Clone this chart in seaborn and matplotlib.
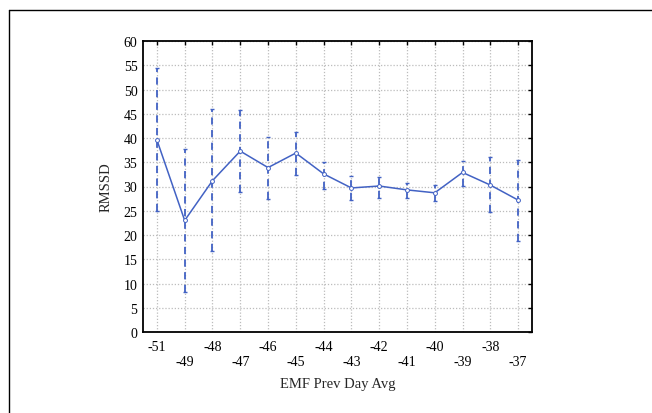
import matplotlib
matplotlib.use("Agg")
import matplotlib.pyplot as plt
import seaborn as sns
import numpy as np
import pandas as pd
from matplotlib.lines import Line2D

categories = ["-51", "-49", "-48", "-47", "-46", "-45", "-44", "-43", "-42", "-41", "-40", "-39", "-38", "-37"]
means = [39.6, 23.0, 31.2, 37.3, 33.9, 36.9, 32.6, 29.7, 30.1, 29.3, 28.7, 32.9, 30.3, 27.2]
upper = [54.5, 37.8, 46.0, 45.8, 40.3, 41.3, 35.1, 32.2, 31.9, 30.7, 30.3, 35.3, 36.0, 35.5]
lower = [25.0, 8.3, 16.7, 28.8, 27.4, 32.4, 29.5, 27.2, 27.7, 27.6, 27.0, 30.1, 24.7, 18.7]
y_ticks = list(range(0, 61, 5))

sns.set_style("white")
plt.rcParams['font.family'] = ['Liberation Serif', 'DejaVu Serif']

color = "#4262c4"
fig = plt.figure(figsize=(6.52, 4.14), dpi=100)
ax = fig.add_axes([143/652, 81/414, 389/652, 291/414])

pos = np.arange(len(categories))
df = pd.DataFrame({"pos": pos, "mean": means})

m = np.array(means)
yerr = np.vstack([m - np.array(lower), np.array(upper) - m])
eb = ax.errorbar(pos, m, yerr=yerr, fmt="none", ecolor=color, elinewidth=1.3,
                 capsize=1.5, capthick=1.0, zorder=3)
eb[2][0].set_linestyle((0, (4, 3)))

sns.lineplot(data=df, x="pos", y="mean", ax=ax, color=color, linewidth=1.1,
             marker="o", markersize=2.8, markerfacecolor="white",
             markeredgecolor=color, markeredgewidth=0.7, zorder=4)

ax.set_xlim(-0.5, len(categories) - 0.5)
ax.set_ylim(0, 60)
ax.set_yticks(y_ticks)
ax.set_yticklabels([str(v) for v in y_ticks])
ax.set_xticks(pos)
ax.set_xticklabels([c if i % 2 == 0 else "\n" + c for i, c in enumerate(categories)])
ax.tick_params(axis="both", direction="in", length=3, width=1, labelsize=10,
               top=True, right=True, colors="black")
ax.tick_params(axis="x", pad=6)
ax.tick_params(axis="y", pad=4)
ax.grid(True, color="#bcbcbc", linestyle=(0, (1, 1.5)), linewidth=0.9)
ax.set_axisbelow(True)
for s in ax.spines.values():
    s.set_color("black")
    s.set_linewidth(1.3)

ax.set_xlabel("EMF Prev Day Avg", fontsize=10.5, labelpad=6)
ax.set_ylabel("RMSSD", fontsize=10.5, labelpad=8)

fig.add_artist(Line2D([9/652, 1.0], [1 - 11/414, 1 - 11/414], transform=fig.transFigure,
                      color="black", linewidth=1.0))
fig.add_artist(Line2D([9/652, 9/652], [0.0, 1 - 11/414], transform=fig.transFigure,
                      color="black", linewidth=1.0))

fig.savefig("out.png", dpi=100)
